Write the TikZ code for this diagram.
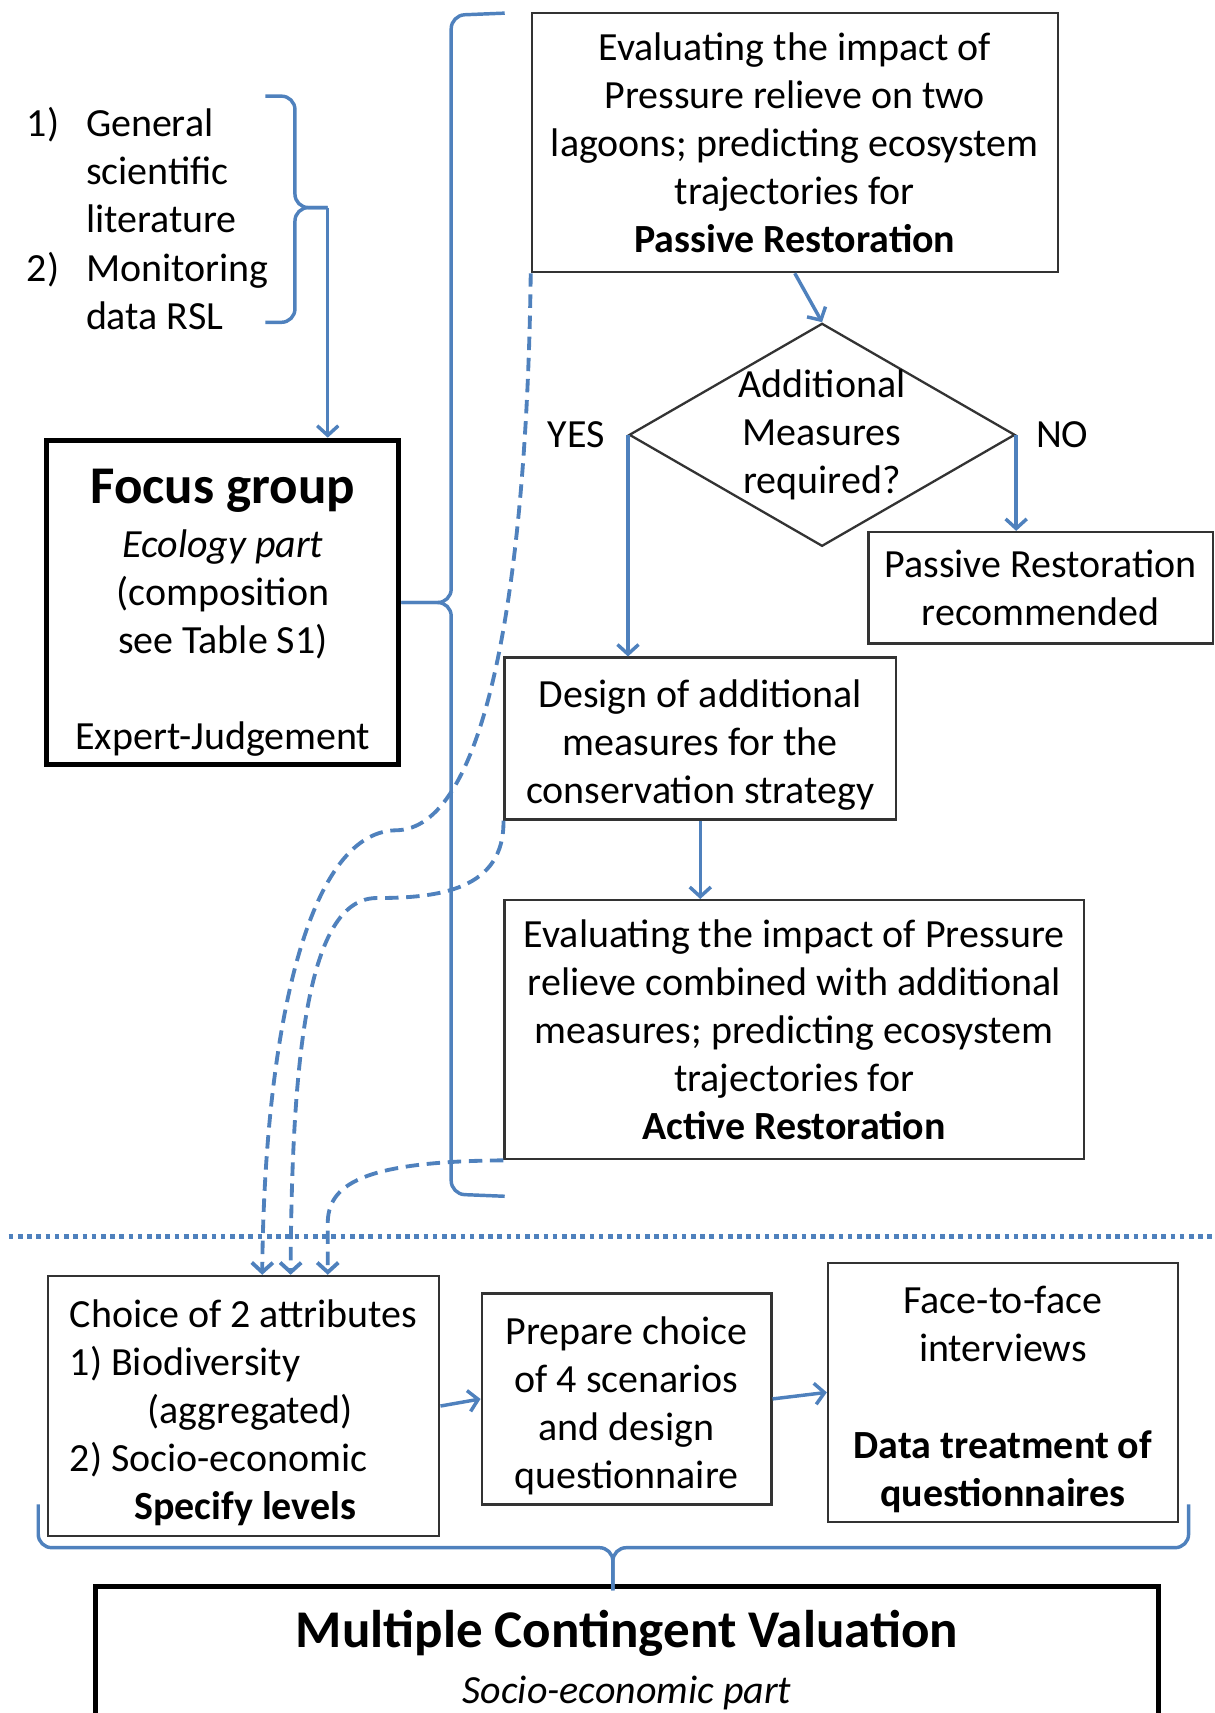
\documentclass[tikz,border=0pt]{standalone}
\usepackage{fontspec}
\setmainfont{Carlito}
\usetikzlibrary{shapes.geometric,arrows.meta}

\definecolor{flowblue}{HTML}{4F81BD}
\newcommand{\boxtop}{\rule{0pt}{10.8pt}}

\tikzset{
  box/.style={draw=black!80, line width=0.6pt, align=center, inner sep=0pt},
  thickbox/.style={draw=black, line width=1.3pt, align=center, inner sep=0pt},
  flow/.style={->, draw=flowblue, line width=0.9pt},
  link/.style={->, draw=flowblue, line width=1pt, dash pattern=on 3.5pt off 2pt},
  bracket/.style={draw=flowblue, line width=0.9pt, rounded corners=3.5pt},
}

\begin{document}
\begin{tikzpicture}[x=0.01cm, y=-0.01cm, >={Straight Barb[length=2.5pt,width=5.5pt]}, font=\fontsize{10.4}{12.5}\selectfont]
    \useasboundingbox (0,0) rectangle (1112,1568);
    \clip (0,0) rectangle (1112,1568);

    % Nodes
    \node[align=left, anchor=west, inner sep=0pt] (sources) at (24,200) {\makebox[0.54cm][l]{1)}General\\\hspace*{0.54cm}scientific\\\hspace*{0.54cm}literature\\\makebox[0.54cm][l]{2)}Monitoring\\\hspace*{0.54cm}data RSL};
    \node[thickbox, minimum width=3.22cm, minimum height=2.97cm] (focus) at (204,551.5) {\rule{0pt}{14.4pt}{\fontsize{13.8}{16}\selectfont\bfseries Focus group}\\[0.05cm]\textit{Ecology part}\\(composition\\see Table S1)\\[0.44cm]Expert-Judgement};

    \node[box, minimum width=4.81cm, minimum height=2.37cm] (eval1) at (727.5,130.5) {Evaluating the impact of\\Pressure relieve on two\\lagoons; predicting ecosystem\\trajectories for\\\textbf{Passive Restoration}};
    \node[diamond, draw=black!80, line width=0.6pt, minimum width=3.53cm, minimum height=2.04cm, inner sep=0pt] (decide) at (752.5,398) {};
    \node[align=center, inner sep=0pt] (decidetext) at (decide) {Additional\\Measures\\required?};
    \node[box, minimum width=3.15cm, minimum height=1.02cm] (passive) at (952.5,538) {Passive Restoration\\recommended};
    \node[box, minimum width=3.58cm, minimum height=1.48cm] (design) at (641,676) {\boxtop Design of additional\\measures for the\\conservation strategy};
    \node[box, minimum width=5.30cm, minimum height=2.37cm] (eval2) at (727,942.5) {Evaluating the impact of Pressure\\relieve combined with additional\\measures; predicting ecosystem\\trajectories for\\\textbf{Active Restoration}};

    \node[box, align=left, minimum width=3.58cm, minimum height=2.38cm] (choice) at (223,1287) {\boxtop Choice of 2 attributes\\1) Biodiversity\\\hspace*{0.71cm}(aggregated)\\2) Socio-economic\\\hspace*{0.59cm}\textbf{Specify levels}};
    \node[box, minimum width=2.65cm, minimum height=1.93cm] (prepare) at (573.5,1280.5) {\boxtop Prepare choice\\of 4 scenarios\\and design\\questionnaire};
    \node[box, minimum width=3.20cm, minimum height=2.37cm] (face) at (918,1274.5) {\boxtop Face-to-face\\interviews\\[0.44cm]\textbf{Data treatment of}\\\textbf{questionnaires}};
    \node[thickbox, minimum width=9.72cm, minimum height=1.35cm] (mcv) at (574,1519.5) {{\fontsize{13.8}{16}\selectfont\bfseries Multiple Contingent Valuation}\\[0.07cm]\textit{Socio-economic part}};

    % Brackets
    \coordinate (srctip) at (300,190);
    \draw[bracket] (243,88) -- (270,88) |- (srctip);
    \draw[bracket] (srctip) -| (270,295) -- (243,295);
    \draw[bracket] (462,12) -- (413,14) |- (focus.east);
    \draw[bracket] (focus.east) -| (413,1093) -- (462,1095);
    \coordinate (mcvtip) at ([xshift=-0.13cm,yshift=-0.06cm]mcv.north);
    \draw[bracket] (35,1377) |- ([yshift=0.39cm]mcvtip) -- (mcvtip);
    \draw[bracket] (mcvtip) -- ([yshift=0.39cm]mcvtip) -| (1088,1377);

    % Connections
    \draw[flow] (srctip) -- (srctip |- focus.north);
    \draw[flow] (eval1.south) -- (decide.north);
    \draw[flow] (decide.west) -- node[pos=0, left=0.08cm] {YES} (decide.west |- design.north);
    \draw[flow] (decide.east) -- node[pos=0, right=0.05cm] {NO} (decide.east |- passive.north);
    \draw[flow] (design.south) -- (design.south |- eval2.north);
    \draw[flow] (choice.east) -- (prepare.west);
    \draw[flow] (prepare.east) -- (face.west);

    % Results passed to the valuation part
    \draw[link] (eval1.south west) .. controls (482,550) and (442,760) .. (362,760) .. controls (280,762) and (242,950) .. ([xshift=0.17cm]choice.north);
    \draw[link] (design.south west) .. controls (462,815) and (400,822) .. (345,822) .. controls (285,822) and (267,950) .. ([xshift=0.43cm]choice.north);
    \draw[link] (eval2.south west) .. controls (330,1063) and (300,1085) .. (300,1120) -- ([xshift=0.77cm]choice.north);

    % Separator
    \draw[flowblue, line width=1.2pt, dash pattern=on 1.2pt off 1.2pt] (8,1132) -- (1112,1132);
\end{tikzpicture}
\end{document}
